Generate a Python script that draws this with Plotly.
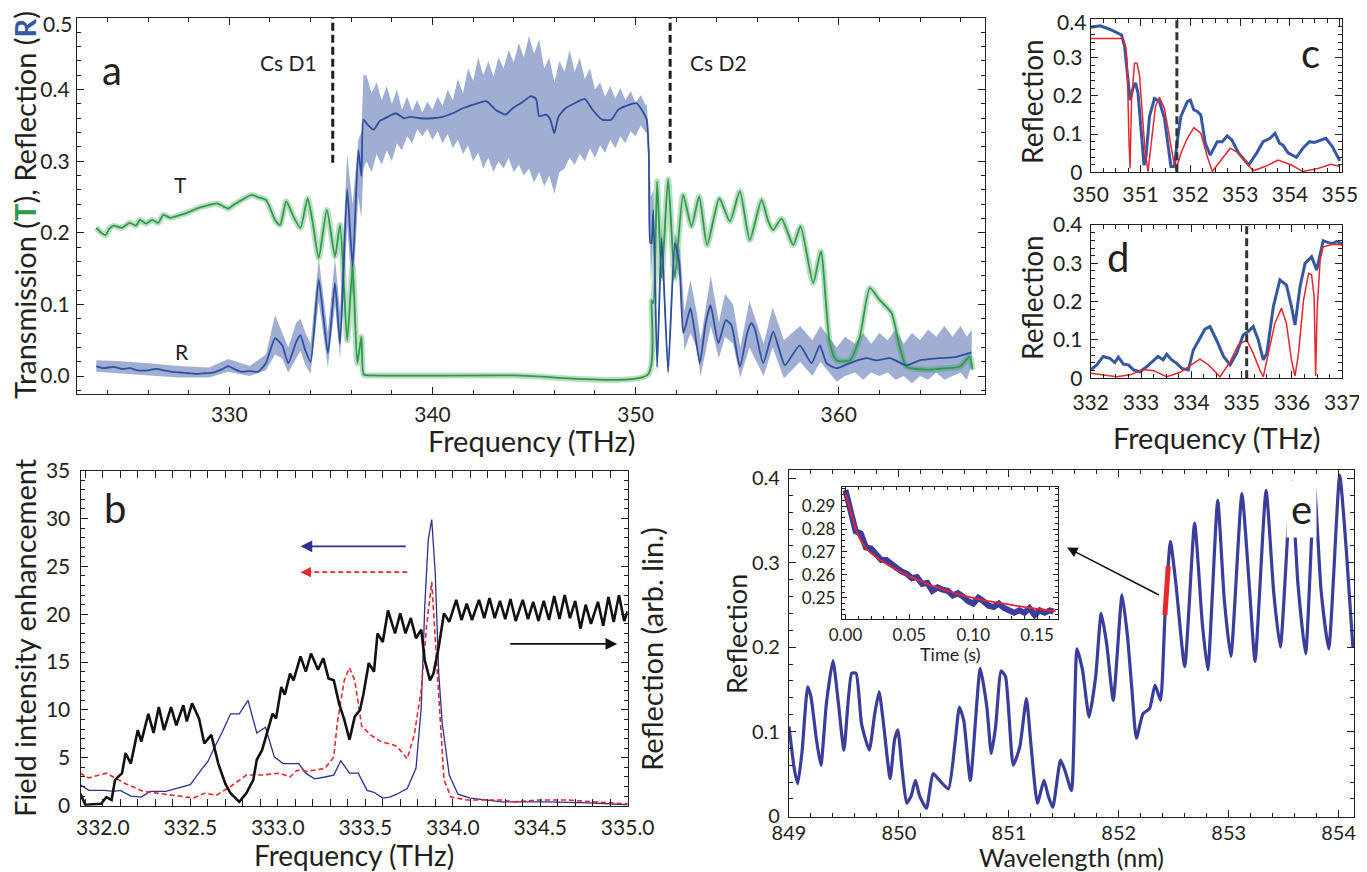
import plotly.graph_objects as go

FONT = "Lato, 'Open Sans', sans-serif"
INK = "#231f20"
BLUE_A = "#2f4f9e"
BAND_A = "rgba(70,100,168,0.52)"
GREEN = "#2e9a4a"
RED = "#e8262b"
BLUE_C = "#3658a3"
NAVY = "#2e3192"
BLUE_E = "#3a3d9c"

# ---------------- panel a : transmission / reflection ----------------
a_T_freq = [323.45, 323.7, 323.9, 324.1, 324.3, 324.7, 325.1, 325.4, 325.6, 325.9, 326.2, 326.5, 326.75, 327.1,
            327.6, 328.0, 328.4, 328.9, 329.4, 329.7, 329.95, 330.2, 330.5, 330.8, 331.1, 331.4, 331.8, 332.0,
            332.25, 332.5, 332.8, 333.15, 333.5, 333.85, 334.1, 334.4, 334.8, 335.2, 335.45, 335.8, 336.07, 336.3,
            336.5, 336.62, 337.0, 344.0, 350.6, 350.79, 350.87, 351.06, 351.28, 351.6, 351.93, 352.34, 352.75,
            353.13, 353.52, 354.12, 354.64, 355.13, 355.62, 356.2, 356.53, 356.77, 357.18, 357.76, 358.12, 358.74,
            359.12, 359.56, 359.89, 360.55, 361.04, 361.53, 362.02, 362.6, 363.0, 363.34, 364.32, 365.3, 365.96,
            366.45, 366.58]
a_T_val = [0.207, 0.200, 0.197, 0.206, 0.210, 0.207, 0.214, 0.210, 0.218, 0.213, 0.218, 0.214, 0.225, 0.221,
           0.225, 0.229, 0.234, 0.238, 0.241, 0.237, 0.234, 0.239, 0.244, 0.249, 0.253, 0.250, 0.246, 0.235,
           0.218, 0.211, 0.244, 0.223, 0.207, 0.248, 0.215, 0.165, 0.232, 0.167, 0.211, 0.050, 0.153, 0.018,
           0.055, 0.002, 0.001, 0.001, 0.002, 0.106, 0.102, 0.272, 0.137, 0.275, 0.137, 0.253, 0.209,
           0.251, 0.183, 0.248, 0.216, 0.258, 0.190, 0.246, 0.216, 0.204, 0.220, 0.183, 0.209, 0.130,
           0.174, 0.046, 0.022, 0.022, 0.055, 0.123, 0.106, 0.088, 0.041, 0.013, 0.009, 0.011, 0.013,
           0.027, 0.009]

a_R_freq = [323.45, 323.8, 324.3, 324.7, 325.1, 325.5, 326.0, 326.4, 326.75, 327.2, 327.6, 328.0, 328.4, 328.8,
            329.2, 329.6, 329.95, 330.3, 330.6, 331.0, 331.4, 331.8, 332.25, 332.6, 332.9, 333.3, 333.5, 333.75,
            334.0, 334.4, 334.85, 335.2, 335.45, 335.8, 336.07, 336.35, 336.5, 336.6, 336.8, 337.1, 337.4, 337.8,
            338.2, 338.6, 338.9, 339.4, 340.0, 340.5, 341.0, 341.5, 342.0, 342.65, 343.1, 343.6, 343.95, 344.4,
            344.85, 345.1, 345.25, 345.6, 345.8, 346.0, 346.2, 346.55, 347.0, 347.5, 347.85, 348.35, 348.8,
            349.15, 349.6, 350.05, 350.4, 350.55, 350.65, 350.72, 350.78, 350.87, 351.06, 351.28, 351.6, 351.93,
            352.15, 352.34, 352.5, 352.7, 352.9, 353.16, 353.45, 353.69, 354.07, 354.44, 354.72, 355.13, 355.51,
            355.7, 355.87, 356.28, 356.77, 357.07, 357.35, 358.08, 358.66, 359.07, 359.4, 359.89, 360.71, 361.37,
            361.86, 362.52, 363.34, 363.99, 364.97, 365.8, 366.53]
a_R_val = [0.014, 0.011, 0.013, 0.010, 0.011, 0.008, 0.008, 0.010, 0.008, 0.006, 0.005, 0.004, 0.003, 0.004,
           0.005, 0.009, 0.014, 0.009, 0.006, 0.007, 0.006, 0.018, 0.053, 0.043, 0.018, 0.048, 0.057, 0.035,
           0.020, 0.135, 0.032, 0.130, 0.045, 0.261, 0.153, 0.316, 0.279, 0.358, 0.351, 0.344, 0.356, 0.362,
           0.367, 0.360, 0.362, 0.360, 0.360, 0.362, 0.367, 0.374, 0.379, 0.384, 0.372, 0.365, 0.374, 0.382,
           0.391, 0.387, 0.363, 0.365, 0.358, 0.339, 0.362, 0.374, 0.381, 0.387, 0.373, 0.358, 0.358,
           0.372, 0.378, 0.381, 0.367, 0.358, 0.310, 0.186, 0.186, 0.232, 0.013, 0.193, 0.006, 0.186,
           0.158, 0.060, 0.074, 0.095, 0.064, 0.018, 0.074, 0.099, 0.046, 0.078, 0.071, 0.013, 0.062,
           0.074, 0.066, 0.018, 0.062, 0.037, 0.015, 0.043, 0.018, 0.043, 0.018, 0.011, 0.020, 0.025,
           0.022, 0.025, 0.015, 0.022, 0.025, 0.027, 0.033]

# envelope of the raw (noisy) reflection data
a_band_freq = [323.45, 324.5, 326, 327.5, 329, 329.95, 331, 331.8, 332.25, 332.6, 332.9, 333.3, 333.5, 333.75,
               334.0, 334.4, 334.85, 335.2, 335.45, 335.8, 336.07, 336.35, 336.5, 336.6,
               336.75, 337.0, 337.25, 337.5, 337.75, 338.0, 338.25, 338.5, 338.75, 339.0, 339.25, 339.5, 339.75,
               340.0, 340.25, 340.5, 340.75, 341.0, 341.25, 341.5, 341.75, 342.0, 342.25, 342.5, 342.75, 343.0,
               343.25, 343.5, 343.75, 344.0, 344.25, 344.5, 344.75, 345.0, 345.25, 345.5, 345.75, 346.0, 346.25,
               346.5, 346.75, 347.0, 347.25, 347.5, 347.75, 348.0, 348.25, 348.5, 348.75, 349.0, 349.25, 349.5,
               349.75, 350.0, 350.25, 350.5,
               350.55, 350.65, 350.75, 350.87, 351.06, 351.28, 351.6, 351.93, 352.2, 352.4, 352.7, 353.0, 353.2,
               353.7, 354.1, 354.4, 354.8, 355.15, 355.6, 356.3, 356.75, 357.3, 358.1, 358.7, 359.1,
               359.9, 360.3, 360.8, 361.2, 361.6, 362.0, 362.4, 362.8, 363.2, 363.6, 364.0, 364.4, 364.8, 365.2,
               365.6, 366.0, 366.3, 366.55]
a_band_hi = [0.022, 0.021, 0.018, 0.014, 0.012, 0.024, 0.014, 0.03, 0.085, 0.06, 0.04, 0.075, 0.08, 0.06,
             0.045, 0.165, 0.06, 0.165, 0.09, 0.31, 0.24, 0.33, 0.34, 0.42,
             0.42, 0.395, 0.41, 0.385, 0.405, 0.38, 0.40, 0.372, 0.39, 0.37, 0.385, 0.368, 0.383,
             0.372, 0.39, 0.378, 0.40, 0.385, 0.415, 0.395, 0.43, 0.412, 0.445, 0.42, 0.44, 0.418,
             0.445, 0.43, 0.455, 0.438, 0.465, 0.445, 0.475, 0.45, 0.47, 0.43, 0.445, 0.41, 0.44,
             0.425, 0.455, 0.425, 0.445, 0.415, 0.43, 0.40, 0.41, 0.39, 0.405, 0.388, 0.402, 0.385,
             0.398, 0.382, 0.392, 0.378,
             0.38, 0.33, 0.25, 0.26, 0.03, 0.21, 0.02, 0.20, 0.175, 0.09, 0.135, 0.09, 0.05,
             0.14, 0.075, 0.115, 0.10, 0.04, 0.105, 0.045, 0.096, 0.05, 0.07, 0.05, 0.07,
             0.04, 0.055, 0.045, 0.06, 0.045, 0.06, 0.05, 0.065, 0.045, 0.06, 0.05, 0.065, 0.055, 0.07,
             0.055, 0.07, 0.055, 0.065]
a_band_lo = [0.006, 0.004, 0.001, -0.002, -0.002, 0.006, 0.0, 0.008, 0.03, 0.025, 0.005, 0.025, 0.035, 0.015,
             0.003, 0.105, 0.012, 0.1, 0.025, 0.21, 0.11, 0.25, 0.22, 0.29,
             0.30, 0.285, 0.31, 0.295, 0.315, 0.30, 0.325, 0.315, 0.335, 0.325, 0.345, 0.335, 0.345,
             0.33, 0.342, 0.325, 0.338, 0.318, 0.33, 0.31, 0.322, 0.30, 0.312, 0.29, 0.305, 0.285,
             0.30, 0.29, 0.305, 0.285, 0.295, 0.28, 0.29, 0.27, 0.285, 0.265, 0.28, 0.255, 0.285,
             0.29, 0.305, 0.295, 0.31, 0.30, 0.318, 0.305, 0.322, 0.312, 0.33, 0.318, 0.335, 0.325,
             0.342, 0.335, 0.35, 0.34,
             0.34, 0.29, 0.13, 0.2, 0.0, 0.17, -0.003, 0.165, 0.13, 0.035, 0.06, 0.04, 0.0,
             0.07, 0.025, 0.055, 0.045, -0.002, 0.04, 0.0, 0.04, -0.003, 0.02, 0.0, 0.02,
             -0.008, 0.0, 0.005, -0.005, 0.005, 0.0, 0.005, -0.005, 0.0, -0.01, 0.0, -0.005, 0.005, -0.005,
             0.0, 0.005, -0.005, 0.015]
a_cs_lines = [335.09, 351.70]
a_yticks = [0.0, 0.1, 0.2, 0.3, 0.4, 0.5]

# ---------------- panel c : reflection near 350-355 THz ----------------
c_blue_freq = [350.0, 350.19, 350.38, 350.48, 350.55, 350.62, 350.68, 350.75, 350.79, 350.85, 350.9, 350.95,
               351.01, 351.07, 351.11, 351.18, 351.28, 351.38, 351.48, 351.54, 351.61, 351.68, 351.74, 351.81,
               351.94, 352.0, 352.07, 352.14, 352.21, 352.3, 352.4, 352.54, 352.64, 352.74, 352.83, 352.97,
               353.17, 353.33, 353.46, 353.6, 353.7, 353.79, 353.86, 353.96, 354.13, 354.26, 354.39, 354.49,
               354.72, 354.85, 355.0]
c_blue_val = [0.379, 0.383, 0.374, 0.368, 0.363, 0.359, 0.329, 0.241, 0.189, 0.22, 0.234, 0.207,
              0.102, 0.019, 0.041, 0.146, 0.193, 0.185, 0.141, 0.085, 0.015, 0.015, 0.085, 0.146,
              0.185, 0.189, 0.163, 0.159, 0.15, 0.076, 0.045, 0.08, 0.08, 0.095, 0.085, 0.05,
              0.019, 0.05, 0.08, 0.089, 0.102, 0.076, 0.071, 0.051, 0.039, 0.063, 0.08, 0.078,
              0.089, 0.067, 0.03]
c_red_freq = [350.0, 350.65, 350.7, 350.73, 350.77, 350.79, 350.82, 350.88, 350.93, 350.98, 351.03, 351.09,
              351.15, 351.21, 351.3, 351.38, 351.48, 351.58, 351.66, 351.71, 351.81, 351.94, 352.07, 352.21,
              352.34, 352.44, 352.57, 352.8, 352.97, 353.26, 353.5, 353.76, 354.03, 354.26, 354.56, 354.82, 355.0]
c_red_val = [0.35, 0.35, 0.329, 0.294, 0.076, 0.01, 0.189, 0.285, 0.285, 0.254, 0.163, 0.058,
             0.002, 0.067, 0.172, 0.196, 0.167, 0.093, 0.032, 0.006, 0.05, 0.089, 0.117, 0.102,
             0.041, 0.002, 0.024, 0.063, 0.05, 0.004, 0.015, 0.032, 0.019, 0.002, 0.01, 0.021, 0.015]
c_line = 351.73
refl_yticks = [0, 0.1, 0.2, 0.3, 0.4]

# ---------------- panel d : reflection near 332-337 THz ----------------
d_blue_freq = [332.0, 332.12, 332.25, 332.38, 332.48, 332.55, 332.65, 332.75, 332.85, 332.98, 333.11, 333.25,
               333.34, 333.44, 333.51, 333.61, 333.71, 333.81, 333.94, 334.04, 334.17, 334.27, 334.37, 334.5,
               334.64, 334.77, 334.9, 335.03, 335.13, 335.23, 335.33, 335.43, 335.5, 335.63, 335.76, 335.89,
               335.99, 336.06, 336.16, 336.26, 336.39, 336.46, 336.49, 336.52, 336.62, 336.72, 336.82, 336.89, 337.0]
d_blue_val = [0.022, 0.035, 0.057, 0.052, 0.041, 0.055, 0.037, 0.035, 0.022, 0.017, 0.03, 0.048,
              0.057, 0.048, 0.063, 0.048, 0.039, 0.026, 0.022, 0.074, 0.104, 0.128, 0.135, 0.1,
              0.057, 0.035, 0.065, 0.113, 0.122, 0.135, 0.1, 0.048, 0.065, 0.187, 0.257, 0.243,
              0.187, 0.139, 0.239, 0.3, 0.317, 0.296, 0.283, 0.3, 0.359, 0.354, 0.352, 0.357, 0.35]
d_red_freq = [332.0, 332.19, 332.52, 332.78, 333.05, 333.25, 333.51, 333.77, 334.01, 334.17, 334.34, 334.57,
              334.77, 334.93, 335.1, 335.23, 335.36, 335.43, 335.53, 335.66, 335.79, 335.89, 335.99, 336.06,
              336.13, 336.23, 336.33, 336.39, 336.44, 336.47, 336.5, 336.56, 336.62, 336.82, 337.0]
d_red_val = [0.013, 0.01, 0.004, 0.009, 0.023, 0.02, 0.004, 0.015, 0.037, 0.05, 0.035, 0.004,
             0.043, 0.087, 0.1, 0.065, 0.022, 0.004, 0.065, 0.143, 0.183, 0.143, 0.048, 0.006,
             0.065, 0.204, 0.274, 0.27, 0.213, 0.006, 0.178, 0.309, 0.343, 0.35, 0.348]
d_line = 335.1

# ---------------- panel b : field enhancement ----------------
b_black_freq = [331.87, 331.9, 331.99, 332.02, 332.05, 332.07, 332.11, 332.13, 332.16, 332.2, 332.22, 332.26,
                332.29, 332.32, 332.35, 332.39, 332.42, 332.46, 332.48, 332.51, 332.55, 332.58, 332.62, 332.66,
                332.7, 332.73, 332.78, 332.82, 332.86, 332.88, 332.91, 332.94, 332.97, 332.99, 333.02, 333.04,
                333.07, 333.09, 333.13, 333.16, 333.19, 333.23, 333.26, 333.29, 333.32, 333.35, 333.38, 333.41,
                333.44, 333.47, 333.49, 333.52, 333.55, 333.57, 333.6, 333.63, 333.67, 333.7, 333.73, 333.76,
                333.79, 333.82, 333.84, 333.87, 333.89, 333.92, 333.95, 333.98, 334.02, 334.05, 334.08, 334.11,
                334.15, 334.18, 334.21, 334.24, 334.27, 334.30, 334.33, 334.36, 334.40, 334.43, 334.46, 334.49,
                334.52, 334.55, 334.58, 334.61, 334.64, 334.67, 334.70, 334.73, 334.76, 334.79, 334.83, 334.86,
                334.89, 334.92, 334.95, 334.98, 335.0]
b_black_val = [1.3, 0.1, 0.2, 0.9, 0.6, 2.7, 3.4, 5.5, 4.4, 7.9, 6.7, 9.6,
               7.6, 10.3, 7.9, 10.3, 8.4, 10.5, 8.8, 10.7, 9.1, 6.5, 7.4, 4.4,
               2.3, 1.3, 0.4, 1.3, 2.7, 4.8, 5.8, 7.6, 9.6, 9.1, 12.4, 11.6,
               13.8, 13.1, 15.6, 14.0, 15.9, 14.2, 15.4, 13.3, 13.1, 10.7, 9.0, 6.9,
               9.3, 10.0, 11.7, 14.9, 14.0, 18.0, 17.1, 20.4, 18.0, 20.1, 18.0, 19.6,
               17.5, 18.4, 15.2, 13.1, 13.8, 16.6, 20.1, 19.2, 21.5, 19.4, 21.1, 19.4,
               21.5, 19.6, 21.7, 19.6, 21.4, 19.5, 21.6, 19.3, 21.5, 19.5, 21.3, 19.3,
               21.4, 19.4, 21.9, 19.5, 22.0, 19.6, 21.4, 18.5, 21.0, 19.0, 21.3, 18.8,
               21.8, 19.2, 22.0, 19.3, 20.3]
b_blue_freq = [331.87, 331.92, 332.01, 332.06, 332.1, 332.16, 332.22, 332.27, 332.36, 332.42, 332.5, 332.56,
               332.6, 332.63, 332.68, 332.73, 332.78, 332.83, 332.88, 332.93, 332.98, 333.03, 333.12, 333.16,
               333.21, 333.27, 333.32, 333.36, 333.41, 333.46, 333.51, 333.55, 333.6, 333.64, 333.68, 333.74,
               333.79, 333.82, 333.84, 333.86, 333.88, 333.9, 333.92, 333.94, 333.98, 334.03, 334.1, 334.28,
               334.53, 334.78, 335.0]
b_blue_val = [2.2, 1.6, 1.6, 1.5, 1.6, 1.0, 0.9, 1.5, 1.5, 1.8, 2.2, 3.7,
              4.6, 5.8, 7.6, 9.6, 9.6, 11.0, 7.6, 8.2, 5.1, 4.4, 4.4, 3.4,
              2.8, 3.0, 3.2, 4.7, 3.4, 3.4, 1.6, 1.4, 0.8, 0.9, 1.2, 1.8,
              3.9, 10.3, 20.8, 27.8, 29.9, 24.3, 13.8, 8.6, 3.2, 1.2, 0.8, 0.4,
              0.4, 0.3, 0.1]
b_red_freq = [331.87, 331.92, 332.02, 332.07, 332.13, 332.23, 332.31, 332.41, 332.52, 332.58, 332.65, 332.73,
              332.82, 332.91, 333.01, 333.07, 333.11, 333.17, 333.27, 333.32, 333.34, 333.38, 333.41, 333.44,
              333.48, 333.53, 333.59, 333.67, 333.7, 333.74, 333.78, 333.82, 333.85, 333.88, 333.9, 333.93,
              333.95, 333.99, 334.08, 334.28, 334.35, 334.5, 334.65, 334.8, 335.0]
b_red_val = [3.4, 2.9, 3.4, 2.9, 2.3, 1.5, 1.3, 1.1, 0.8, 1.3, 1.1, 2.0,
             3.2, 3.2, 3.4, 3.0, 3.7, 3.6, 3.9, 5.1, 8.6, 13.1, 14.4, 13.1,
             8.3, 7.4, 6.7, 6.3, 5.8, 4.9, 7.4, 12.1, 18.7, 23.4, 17.3, 8.6,
             2.7, 0.9, 0.6, 0.6, 0.4, 0.6, 0.6, 0.4, 0.2]

# ---------------- panel e : reflection vs wavelength ----------------
e_wl = [849.0, 849.05, 849.08, 849.12, 849.17, 849.2, 849.25, 849.29, 849.34, 849.4, 849.45, 849.5, 849.57,
        849.61, 849.66, 849.73, 849.78, 849.82, 849.86, 849.92, 849.96, 849.99, 850.03, 850.07, 850.11, 850.15,
        850.19, 850.25, 850.31, 850.37, 850.45, 850.51, 850.55, 850.59, 850.65, 850.74, 850.8, 850.84, 850.88,
        850.93, 850.97, 851.04, 851.1, 851.16, 851.2, 851.26, 851.32, 851.36, 851.4, 851.47, 851.51, 851.57,
        851.62, 851.67, 851.73, 851.79, 851.84, 851.89, 851.95, 852.03, 852.08, 852.12, 852.16, 852.22, 852.28,
        852.33, 852.38, 852.42, 852.47, 852.52, 852.6, 852.69, 852.76, 852.81, 852.9, 852.96, 853.02, 853.12,
        853.19, 853.24, 853.34, 853.41, 853.47, 853.57, 853.63, 853.7, 853.78, 853.84, 853.91, 854.01, 854.07,
        854.13]
e_R = [0.106, 0.054, 0.038, 0.078, 0.153, 0.141, 0.09, 0.06, 0.133, 0.184, 0.133, 0.078, 0.169,
       0.169, 0.109, 0.078, 0.121, 0.147, 0.109, 0.044, 0.09, 0.102, 0.054, 0.015, 0.023, 0.042,
       0.023, 0.009, 0.05, 0.042, 0.032, 0.086, 0.129, 0.113, 0.042, 0.175, 0.129, 0.074, 0.106,
       0.172, 0.165, 0.06, 0.082, 0.139, 0.086, 0.015, 0.042, 0.023, 0.01, 0.066, 0.054, 0.03,
       0.198, 0.173, 0.117, 0.165, 0.24, 0.204, 0.137, 0.262, 0.212, 0.149, 0.092, 0.121, 0.127,
       0.155, 0.137, 0.236, 0.325, 0.275, 0.177, 0.347, 0.228, 0.173, 0.374, 0.256, 0.189, 0.382,
       0.268, 0.183, 0.386, 0.264, 0.2, 0.396, 0.275, 0.192, 0.39, 0.268, 0.198, 0.404, 0.315,
       0.2]
e_mark_wl = [852.42, 852.45]
e_mark_R = [0.238, 0.296]

# ---------------- inset : decay vs time ----------------
ins_t = [0.000, 0.004, 0.008, 0.012, 0.016, 0.020, 0.024, 0.028, 0.032, 0.036, 0.040, 0.044, 0.048, 0.052,
         0.056, 0.060, 0.064, 0.068, 0.072, 0.076, 0.080, 0.084, 0.088, 0.092, 0.096, 0.100, 0.104, 0.108,
         0.112, 0.116, 0.120, 0.124, 0.128, 0.132, 0.136, 0.140, 0.144, 0.148, 0.152, 0.156, 0.160, 0.163]
ins_R = [0.297, 0.287, 0.279, 0.278, 0.272, 0.2715, 0.2685, 0.2665, 0.2665, 0.2645, 0.263, 0.2615, 0.2605, 0.2585,
         0.259, 0.256, 0.2565, 0.253, 0.2545, 0.2535, 0.253, 0.251, 0.252, 0.2505, 0.2485, 0.2475, 0.250, 0.2485,
         0.2465, 0.246, 0.2475, 0.2455, 0.2445, 0.2435, 0.2445, 0.2435, 0.2455, 0.2425, 0.2445, 0.2435, 0.2445, 0.244]
fit_t = [0.0, 0.0026, 0.0053, 0.0079, 0.0105, 0.0145, 0.0197, 0.0276, 0.0382, 0.0513, 0.0671, 0.0855, 0.1066,
         0.1276, 0.1487, 0.1645]
fit_R = [0.2955, 0.2904, 0.2853, 0.2802, 0.2766, 0.2729, 0.2696, 0.2664, 0.2627, 0.2591, 0.2554, 0.2520, 0.2491,
         0.2471, 0.2452, 0.2442]

# The page body has an 8 px default margin; size the figure so it fills the 1367x872 window exactly.
OFF = 8
W, H = 1367 - OFF, 872 - OFF
TICK_FS = 21


def dom_x(x0, x1):
    return [(x0 - OFF) / W, (x1 - OFF) / W]


def dom_y(y0, y1):  # window-pixel top, bottom
    return [1 - (y1 - OFF) / H, 1 - (y0 - OFF) / H]


def axis(fs=TICK_FS, **kw):
    base = dict(showline=True, linecolor=INK, linewidth=1.3, mirror="allticks", ticks="inside",
                ticklen=7, tickwidth=1.2, tickcolor=INK, showgrid=False, zeroline=False, automargin=False,
                ticklabeloverflow="allow", tickfont=dict(family=FONT, size=fs, color=INK))
    base.update(kw)
    return base


def minor(d, ln=4):
    return dict(ticks="inside", ticklen=ln, tickwidth=1, tickcolor=INK, dtick=d, showgrid=False)


fig = go.Figure()

# panel a
fig.add_trace(go.Scatter(x=a_band_freq, y=a_band_hi, mode="lines", line=dict(width=0, color=BAND_A),
                         hoverinfo="skip", showlegend=False, xaxis="x", yaxis="y"))
fig.add_trace(go.Scatter(x=a_band_freq, y=a_band_lo, mode="lines", line=dict(width=0, color=BAND_A),
                         fill="tonexty", fillcolor=BAND_A, showlegend=False, xaxis="x", yaxis="y"))
fig.add_trace(go.Scatter(x=a_T_freq, y=a_T_val, mode="lines",
                         line=dict(width=6, color="rgba(46,154,74,0.33)", shape="spline", smoothing=0.6),
                         hoverinfo="skip", showlegend=False, xaxis="x", yaxis="y"))
fig.add_trace(go.Scatter(x=a_T_freq, y=a_T_val, mode="lines",
                         line=dict(width=1.8, color=GREEN, shape="spline", smoothing=0.6),
                         name="T", showlegend=False, xaxis="x", yaxis="y"))
fig.add_trace(go.Scatter(x=a_R_freq, y=a_R_val, mode="lines",
                         line=dict(width=1.8, color=BLUE_A, shape="spline", smoothing=0.5),
                         name="R", showlegend=False, xaxis="x", yaxis="y"))

# panel c
fig.add_trace(go.Scatter(x=c_blue_freq, y=c_blue_val, mode="lines", line=dict(width=3, color=BLUE_C),
                         showlegend=False, xaxis="x2", yaxis="y2"))
fig.add_trace(go.Scatter(x=c_red_freq, y=c_red_val, mode="lines", line=dict(width=1.5, color=RED),
                         showlegend=False, xaxis="x2", yaxis="y2"))
# panel d
fig.add_trace(go.Scatter(x=d_blue_freq, y=d_blue_val, mode="lines", line=dict(width=3, color=BLUE_C),
                         showlegend=False, xaxis="x3", yaxis="y3"))
fig.add_trace(go.Scatter(x=d_red_freq, y=d_red_val, mode="lines", line=dict(width=1.5, color=RED),
                         showlegend=False, xaxis="x3", yaxis="y3"))
# panel b
fig.add_trace(go.Scatter(x=b_blue_freq, y=b_blue_val, mode="lines", line=dict(width=1.3, color=NAVY),
                         showlegend=False, xaxis="x4", yaxis="y4"))
fig.add_trace(go.Scatter(x=b_red_freq, y=b_red_val, mode="lines", line=dict(width=1.6, color=RED, dash="5px,3px"),
                         showlegend=False, xaxis="x4", yaxis="y4"))
fig.add_trace(go.Scatter(x=b_black_freq, y=b_black_val, mode="lines", line=dict(width=2.6, color="#111111"),
                         showlegend=False, xaxis="x4", yaxis="y5"))
# panel e
fig.add_trace(go.Scatter(x=e_wl, y=e_R, mode="lines",
                         line=dict(width=3.2, color=BLUE_E, shape="spline", smoothing=0.5),
                         showlegend=False, xaxis="x6", yaxis="y6"))
fig.add_trace(go.Scatter(x=e_mark_wl, y=e_mark_R, mode="lines", line=dict(width=5, color=RED),
                         showlegend=False, xaxis="x6", yaxis="y6"))
# inset
fig.add_trace(go.Scatter(x=ins_t, y=ins_R, mode="lines", line=dict(width=6, color=BLUE_E),
                         showlegend=False, xaxis="x7", yaxis="y7"))
fig.add_trace(go.Scatter(x=fit_t, y=fit_R, mode="lines", line=dict(width=1.8, color=RED, shape="spline"),
                         showlegend=False, xaxis="x7", yaxis="y7"))

fig.update_layout(
    template="none",
    width=W, height=H, margin=dict(l=0, r=0, t=0, b=0, pad=0),
    paper_bgcolor="white", plot_bgcolor="white", showlegend=False,
    font=dict(family=FONT, color=INK),
    xaxis=axis(domain=dom_x(77, 985), range=[322.5, 367.2], dtick=10, minor=minor(2),
               ticklabelstandoff=2, anchor="y"),
    # the topmost label (0.5) sits on the frame edge; it is drawn below as text nudged inside the window
    yaxis=axis(domain=dom_y(18, 394), range=[-0.025, 0.5], tickvals=a_yticks[:-1], tickformat=".1f",
               minor=minor(0.02), ticklabelstandoff=2, anchor="x"),
    xaxis2=axis(domain=dom_x(1090.7, 1342.3), range=[350, 355.05], dtick=1, minor=minor(0.25), anchor="y2",
                ticklabelstandoff=3),
    yaxis2=axis(domain=dom_y(19.3, 172.3), range=[0, 0.4], tickvals=refl_yticks[:-1], minor=minor(0.02),
                ticklabelstandoff=3, anchor="x2"),
    xaxis3=axis(domain=dom_x(1090.7, 1342.3), range=[332, 337], dtick=1, minor=minor(0.25), anchor="y3",
                ticklabelstandoff=5),
    yaxis3=axis(domain=dom_y(225, 378.3), range=[0, 0.4], tickvals=refl_yticks, minor=minor(0.02),
                ticklabelstandoff=3, anchor="x3"),
    xaxis4=axis(domain=dom_x(80.6, 627.7), range=[331.873, 335.0], dtick=0.5, tickformat=".1f",
                minor=minor(0.1), anchor="y4", ticklabelstandoff=3),
    yaxis4=axis(domain=dom_y(470.7, 805.7), range=[0, 35], dtick=5, minor=minor(1), anchor="x4",
                ticklabelstandoff=5),
    yaxis5=dict(overlaying="y4", side="right", anchor="x4", range=[0, 35], showticklabels=False, ticks="",
                showline=False, showgrid=False, zeroline=False, automargin=False),
    xaxis6=axis(fs=20, domain=dom_x(789, 1354), range=[849, 854.14], dtick=1, minor=minor(0.2), anchor="y6",
                ticklabelstandoff=-2),
    yaxis6=axis(fs=20, domain=dom_y(470, 816.7), range=[-0.001, 0.41], dtick=0.1, minor=minor(0.02),
                anchor="x6", ticklabelstandoff=4),
    xaxis7=axis(fs=17, domain=dom_x(842, 1058), range=[-0.0027, 0.1663], dtick=0.05, tickformat=".2f",
                minor=minor(0.01, 3), anchor="y7", ticklen=5, ticklabelstandoff=0),
    yaxis7=axis(fs=17, domain=dom_y(487.3, 619.3), range=[0.2406, 0.2982], tickvals=[0.25, 0.26, 0.27, 0.28, 0.29],
                minor=minor(0.0025, 3), anchor="x7", ticklen=5, ticklabelstandoff=2),
)

shapes = []
for xv in a_cs_lines:
    shapes.append(dict(type="line", xref="x", yref="y", x0=xv, x1=xv, y0=0.298, y1=0.5,
                       line=dict(color=INK, width=3, dash="8px,4px")))
shapes.append(dict(type="line", xref="x2", yref="y2", x0=c_line, x1=c_line, y0=0, y1=0.4,
                   line=dict(color="#333333", width=3, dash="8px,4px")))
shapes.append(dict(type="line", xref="x3", yref="y3", x0=d_line, x1=d_line, y0=0, y1=0.4,
                   line=dict(color="#333333", width=3, dash="8px,4px")))
# red dashed arrow shaft in panel b
shapes.append(dict(type="line", xref="x4", yref="y4", x0=333.74, x1=333.17, y0=24.4, y1=24.4,
                   line=dict(color=RED, width=1.6, dash="5px,3px")))
fig.update_layout(shapes=shapes)

ann = []


def label(text, x, y, xr, yr, size=40, **kw):
    d = dict(text=text, x=x, y=y, xref=xr, yref=yr, showarrow=False,
             font=dict(family=FONT, size=size, color=INK), xanchor="center", yanchor="middle")
    d.update(kw)
    ann.append(d)


def title(text, px, py, size=29, angle=0, xanchor="center"):
    ann.append(dict(text=text, x=(px - OFF) / W, y=1 - (py - OFF) / H, xref="paper", yref="paper",
                    showarrow=False, textangle=angle, xanchor=xanchor, yanchor="middle", borderpad=0,
                    font=dict(family=FONT, size=size, color=INK)))


title_a = ("Transmission (<b><span style='color:#2e9a4a'>T</span></b>), "
           "Reflection (<b><span style='color:#3658a3'>R</span></b>)")
# axis titles (window pixel positions)
title(title_a, 24, 205, 29, -90)
title("Frequency (THz)", 531, 440, 29)
title("Reflection", 1032, 102, 28, -90)
title("Reflection", 1032, 298, 28, -90)
title("Frequency (THz)", 1216.5, 437, 29)
title("Field intensity enhancement", 24, 638, 29, -90)
title("Reflection (arb. lin.)", 651, 649, 29, -90)
title("Frequency (THz)", 354, 855, 28)
title("Reflection", 736, 634, 27, -90)
title("Wavelength (nm)", 1071.5, 857, 25)
title("Time (s)", 950, 654, 18)
# top tick labels sitting at the upper window edge
title(f"{a_yticks[-1]:.1f}", 73, 23, TICK_FS, 0, "right")
title(f"{refl_yticks[-1]:.1f}", 1087, 21.5, TICK_FS, 0, "right")

# panel labels and in-plot text
label("a", 324.23, 0.428, "x", "y")
label("Cs D1", 332.9, 0.438, "x", "y", size=21)
label("Cs D2", 354.07, 0.438, "x", "y", size=21)
label("T", 327.58, 0.267, "x", "y", size=21)
label("R", 327.66, 0.035, "x", "y", size=21)
label("c", 354.42, 0.311, "x2", "y2")
label("d", 332.55, 0.317, "x3", "y3")
label("b", 332.07, 31.1, "x4", "y4")
label("e", 853.66, 0.364, "x6", "y6", bgcolor="white", borderpad=4)

# arrows
ann.append(dict(x=333.13, y=27.1, ax=333.74, ay=27.1, xref="x4", yref="y4", axref="x4", ayref="y4",
                showarrow=True, arrowhead=2, arrowsize=1.3, arrowwidth=1.8, arrowcolor=NAVY, text=""))
ann.append(dict(x=333.13, y=24.4, ax=333.2, ay=24.4, xref="x4", yref="y4", axref="x4", ayref="y4",
                showarrow=True, arrowhead=2, arrowsize=1.3, arrowwidth=1.6, arrowcolor=RED, text=""))
ann.append(dict(x=334.94, y=16.9, ax=334.32, ay=16.9, xref="x4", yref="y4", axref="x4", ayref="y4",
                showarrow=True, arrowhead=2, arrowsize=1.3, arrowwidth=1.8, arrowcolor="#111111", text=""))
ann.append(dict(x=851.53, y=0.318, ax=852.38, ay=0.261, xref="x6", yref="y6", axref="x6", ayref="y6",
                showarrow=True, arrowhead=2, arrowsize=1.3, arrowwidth=1.6, arrowcolor="#111111", text=""))
fig.update_layout(annotations=ann)

fig.write_html("out.html")
